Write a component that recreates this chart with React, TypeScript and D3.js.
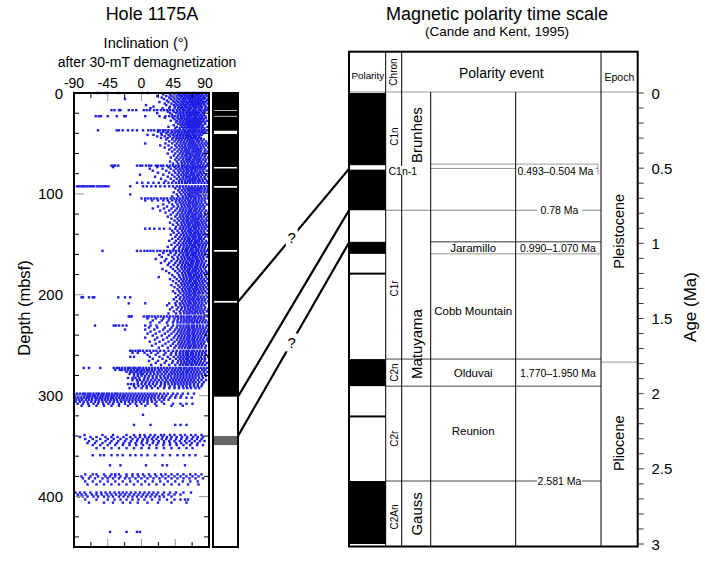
import React from "react";
import * as d3 from "d3";

// ---------- data ----------
const incTicks = [-90, -45, 0, 45, 90];
const depthTicks = [0, 100, 200, 300, 400];
const ageTicks = [0, 0.5, 1, 1.5, 2, 2.5, 3];

// hole 1175A polarity column (depth intervals, mbsf)
const holeNormal = [[0, 17], [17.7, 22.7], [23.4, 37.4], [40.6, 73.3], [74.8, 92.2], [93.9, 155.6], [157.3, 206.1], [207.8, 301]];
const holeUncertain = [[340, 349]];

// GPTS normal polarity intervals (Ma)
const gptsNormal = [[0, 0.48], [0.51, 0.78], [0.99, 1.07], [1.195, 1.208], [1.77, 1.95], [2.145, 2.158], [2.581, 3.0]];

const chronNames = ["C1n", "C1r", "C2n", "C2r", "C2An"];
const chronAges = [0.29, 1.3, 1.86, 2.3, 2.82];
const chronLines = [0.78, 1.77, 1.95, 2.581];

const epochNames = ["Brunhes", "Matuyama", "Gauss"];
const epochAges = [0.28, 1.67, 2.8];

const eventNames = ["Jaramillo", "Cobb Mountain", "Olduvai", "Reunion"];
const eventAges = [1.03, 1.45, 1.86, 2.25];
const rangeLabels = ["0.990\u20131.070 Ma", "1.770\u20131.950 Ma"];
const rangeAges = [1.03, 1.86];
const boundaryLabels = ["0.78 Ma", "2.581 Ma"];
const boundaryAges = [0.78, 2.581];

const seriesNames = ["Pleistocene", "Pliocene"];
const seriesAges = [0.92, 2.33];

const tieDepths = [207, 301, 340];
const tieAges = [0.505, 0.78, 0.995];
const tieQuery = [true, false, true];

// inclination after 30-mT demagnetization: "depth: inclinations"
const scatterRows = [
  "0:-59 -55 -48 -45 -31 1 8 36 41 47 50 53 57 60 62 66 69 71 75 78 80 84 88",
  "1.5:29 38 44 49 52 56 59 63 65 68 72 74 77 81 86",
  "3:21 33 40 46 51 54 58 61 64 67 70 73 76 79 83 88",
  "4.5:27 37 43 48 53 57 60 63 66 69 71 75 78 82 85",
  "6:-22 30 39 45 50 55 58 62 65 68 72 74 77 80 84 89",
  "7.5:34 42 47 52 56 59 64 67 70 73 76 79 81 87",
  "9:24 36 44 49 54 57 61 63 66 69 72 75 78 82 85",
  "10.5:31 40 46 51 55 59 62 66 68 71 74 77 80 83 88",
  "12:6 33 43 48 53 57 60 64 67 70 73 76 79 84",
  "13.5:16 38 45 50 54 58 61 65 69 72 74 78 81 86",
  "15:12 28 37 44 49 53 56 60 63 66 70 73 77 80 85 89",
  "17:-40 -36 -30 -28 -17 -12 -7 3 7 11 17 21 26 30 34 38 42 47 51 55 58 62 65 69 72 76 79 83 86 89",
  "18.5:35 43 48 52 56 60 63 67 70 73 76 80 84",
  "20:21 38 46 51 55 59 62 65 68 71 74 77 82",
  "21.5:41 49 53 57 61 64 67 70 72 75 79 83",
  "23:-61 -57 -54 -45 -33 -23 -21 5 24 32 37 41 45 49 53 56 60 63 66 70 73 77 81 85",
  "24.5:31 42 48 53 57 61 64 68 71 74 78 81 86",
  "26:44 50 54 58 61 64 67 70 73 76 79 83",
  "27.5:39 47 52 56 60 63 66 69 72 75 78 82 87",
  "29:46 51 55 59 62 65 68 71 74 77 80 84",
  "30.5:49 54 58 61 64 67 70 73 76 79 85",
  "32:43 52 56 60 63 66 69 72 75 78 82",
  "33.5:36 47 54 58 62 65 68 71 74 77 81 88",
  "35:45 51 56 60 64 67 70 73 76 80 84",
  "37:-58 -33 -30 -25 -18 -12 -6 2 9 13 17 22 25 29 32 36 40 44 48 51 55 58 62 65 68 71 74 77 80 83 87 90",
  "38.5:22 29 35 41 46 50 54 58 61 64 67 70 73 77 81 85",
  "40:26 33 39 44 49 53 57 60 63 67 70 74 78 82",
  "41.5:8 16 27 36 42 47 51 55 59 62 65 69 72 76 80",
  "43:21 31 38 44 48 52 56 60 63 66 70 73 77",
  "44.5:26 35 42 47 51 55 59 62 66 69 72 76 79",
  "46:33 41 46 50 54 58 62 65 68 72 75 79 83",
  "48:37 44 49 53 57 61 64 67 70 74 77 81 86",
  "50:5 32 41 47 52 56 59 63 66 69 72 76 80 84 88",
  "52:25 36 45 50 54 58 62 65 68 71 74 78 82 86",
  "54:31 40 47 52 56 59 63 66 69 72 75 79 83 89",
  "56:37 44 50 54 58 61 64 68 71 74 77 80 85",
  "58:41 48 53 57 60 63 67 70 73 76 79 84 88",
  "60:35 45 51 55 59 62 65 68 72 75 78 82 86",
  "62:43 49 54 58 61 65 68 71 74 77 81 85",
  "64:39 47 52 56 60 63 66 70 73 76 79 84 89",
  "66:45 50 55 59 62 65 69 72 75 78 82 86",
  "68:38 47 53 57 61 64 67 70 74 77 80 85",
  "70:42 49 54 58 62 66 69 72 75 79 83 88",
  "72:-40 -37 -35 -31 -6 -2 1 6 10 13 19 22 26 29 34 38 42 46 50 54 57 61 64 68 71 75 78 82 86 89",
  "73.5:-38 21 36 44 49 54 58 61 65 68 71 74 78 81 85",
  "75:11 28 39 46 51 55 59 62 66 69 72 76 80 84",
  "77:15 33 43 49 53 57 61 64 67 71 74 78 82 87",
  "79:22 37 45 50 55 59 62 66 69 72 76 79 83",
  "81:-2 29 41 48 53 57 60 64 67 70 74 77 81 86",
  "83:18 35 44 50 55 59 62 65 69 72 75 79 84 89",
  "85:26 39 47 52 56 60 64 67 70 73 77 81 85",
  "87:32 43 50 54 58 62 65 68 71 75 78 82 87",
  "89:-6 1 9 16 23 30 36 41 46 50 54 58 61 65 69 72 76 80 84 88",
  "92.5:-86 -83 -80 -78 -75 -72 -69 -66 -63 -59 -56 -53 -50 -47 -44 -15 2 7 13 19 25 31 37 42 47 51 55 59 63 67 71 75 79 83 87",
  "94.5:45 51 56 60 63 66 69 72 75 78 81 85 89",
  "96.5:49 54 58 62 65 68 71 74 77 80 84 88",
  "98.5:43 51 56 60 64 67 70 73 76 79 83 87",
  "100.5:-15 47 53 58 62 65 68 72 75 78 82 86",
  "102.5:41 49 55 59 63 66 69 72 76 79 84 89",
  "104.5:0 5 9 13 17 21 26 30 34 39 43 47 51 55 59 62 66 70 73 77 81 85 89",
  "106.5:5 14 22 29 35 41 46 50 54 58 62 65 69 72 76 80 84",
  "108.5:37 46 51 55 59 63 66 69 73 76 80 85",
  "110.5:29 41 48 53 57 61 64 68 71 74 78 82 87",
  "112.5:22 34 43 49 54 58 62 65 69 72 76 80 84",
  "114.5:15 30 40 47 52 56 60 64 67 71 74 78 83",
  "116.5:25 37 45 51 55 59 63 66 70 73 77 81 86",
  "118.5:32 42 49 54 58 62 65 68 72 75 79 84 89",
  "120.5:39 47 52 56 60 63 67 70 73 77 80 85",
  "122.5:35 45 51 55 59 62 66 69 72 76 79 83 88",
  "124.5:40 48 53 57 61 64 68 71 74 77 81 86",
  "126.5:44 50 55 59 62 66 69 72 75 79 83 87",
  "128.5:38 47 53 57 61 64 67 71 74 77 81 85",
  "130.5:42 49 54 58 62 65 69 72 75 78 82 86 90",
  "132.5:46 52 56 60 63 67 70 73 76 80 84 88",
  "134.5:5 11 17 24 30 38 45 51 55 59 63 66 70 73 77 81 85",
  "136.5:41 48 54 58 62 65 68 72 75 79 83 88",
  "138.5:43 50 55 59 63 66 70 73 76 80 84",
  "140.5:39 47 53 57 61 65 68 71 75 78 82 87",
  "142.5:45 51 56 60 63 67 70 73 77 80 85 89",
  "144.5:41 49 54 58 62 65 69 72 76 79 83",
  "146.5:37 46 52 57 61 64 67 71 74 77 81 86",
  "148.5:44 50 55 59 63 66 70 73 76 80 84 88",
  "150.5:40 48 53 57 61 65 68 71 75 78 82 86",
  "152.5:35 45 51 56 60 63 67 70 73 77 81 85",
  "154.5:43 50 55 59 62 66 69 73 76 80 84 89",
  "156.5:-52 -6 -1 4 8 12 16 21 25 30 34 38 42 46 50 54 58 61 65 68 72 75 79 83 87",
  "158.5:29 39 46 52 56 60 63 67 70 73 77 81 85",
  "160.5:24 36 44 50 55 59 62 66 69 72 76 80 84 89",
  "162.5:27 41 48 53 57 61 64 68 71 74 78 82 87",
  "164.5:19 33 43 49 54 58 62 65 68 72 75 79 83",
  "166.5:31 40 47 52 56 60 64 67 70 74 77 81 86",
  "168.5:26 37 45 51 55 59 62 66 69 73 76 80 84",
  "170.5:35 43 49 54 58 62 65 68 72 75 79 83 88",
  "172.5:39 47 53 57 60 64 67 71 74 78 82 86",
  "174.5:28 42 49 54 58 62 65 69 72 75 79 84",
  "176.5:33 45 51 56 60 63 67 70 73 77 81 86 90",
  "178.5:37 48 54 58 62 65 68 72 75 79 83 87",
  "180.5:41 50 55 59 63 66 70 73 77 80 85",
  "182.5:23 44 51 56 60 64 67 70 74 77 81 86",
  "184.5:38 47 53 57 61 65 68 72 75 79 83 88",
  "186.5:42 50 55 59 63 66 70 73 77 81 85",
  "188.5:46 53 57 61 64 68 71 74 78 82 87",
  "190.5:40 49 54 58 62 66 69 73 76 80 84 89",
  "192.5:44 51 56 60 64 67 71 74 78 82 86",
  "194.5:48 54 58 62 65 69 72 75 79 83 88",
  "196.5:42 50 55 59 63 66 70 73 77 81 85",
  "198.5:45 52 57 61 64 68 71 75 78 82 87",
  "200.5:49 55 59 63 66 70 73 77 81 86",
  "202.5:-80 -78 -70 -65 -63 -31 -22 -15 46 52 57 61 64 68 71 75 79 83 88",
  "204.5:43 51 56 60 64 67 70 74 77 81 85",
  "206.5:47 54 58 62 65 69 72 76 80 84 89",
  "208.5:-17 5 37 45 51 55 59 63 66 70 73 77 81 86",
  "210.5:34 46 52 57 61 64 68 71 75 79 83",
  "212.5:41 49 54 58 62 66 69 73 76 80 85",
  "214.5:38 47 53 58 62 65 69 72 76 80 84 89",
  "216.5:43 51 56 60 64 67 71 74 78 82 87",
  "218.5:36 46 52 57 61 64 68 71 75 79 83",
  "221.5:-17 -15 -13 3 7 10 14 18 22 26 30 34 38 42 46 49 53 56 60 63 66 70 73 77 80 84 88",
  "223.5:8 19 29 37 44 49 53 57 61 64 68 71 75 79 83",
  "225.5:15 27 36 43 48 53 57 60 64 67 71 74 78 82 86",
  "227.5:12 24 34 42 48 52 56 60 63 67 70 74 77 81 85 89",
  "230.5:-62 -37 -34 -30 -25 -20 5 12 20 35 42 48 52 56 60 63 67 70 74 78 82 87",
  "232.5:10 21 31 40 47 52 56 60 63 67 70 74 78 82 86",
  "234.5:-22 5 17 29 38 45 50 54 58 62 65 69 72 76 80 84 89",
  "236.5:12 24 35 43 49 53 57 61 64 68 71 75 79 83 87",
  "238.5:8 19 31 40 47 52 56 60 63 67 70 74 78 82 86",
  "240.5:15 27 37 45 50 54 58 62 65 69 72 76 80 85",
  "242.5:5 21 34 43 49 53 57 61 64 68 71 75 79 83 88",
  "244.5:18 29 40 47 52 56 60 63 67 70 74 78 82 87",
  "246.5:11 24 36 44 50 54 58 62 65 69 72 76 80 84 89",
  "248.5:19 32 42 49 53 57 61 64 68 71 75 79 83",
  "250.5:14 28 39 46 51 55 59 63 66 70 73 77 81 86",
  "252.5:23 35 44 50 54 58 62 65 69 72 76 80 85",
  "255.5:-15 -12 -8 -4 -2 2 7 11 16 20 25 30 36 42 47 52 56 60 63 67 70 74 78 82 86",
  "257.5:-12 -5 4 13 22 32 40 46 51 55 59 62 66 69 73 77 81 85",
  "259.5:8 19 30 39 46 51 55 59 62 66 69 73 77 81 86",
  "261.5:-15 -10 11 24 35 43 49 53 57 61 64 68 71 75 79 84 89",
  "263.5:15 28 38 46 51 55 59 62 66 69 73 77 81 85",
  "265.5:10 22 33 42 49 53 57 61 64 68 71 75 79 84",
  "267.5:19 31 41 48 53 57 60 64 67 71 74 78 82 87",
  "269.5:13 26 37 45 51 55 59 62 66 69 73 77 81 85",
  "272.5:-77 -70 -55 -37 -33 -30 -26 -22 -18 -15 -11 -8 -4 -2 2 6 10 14 18 22 26 30 34 38 42 46 50 53 57 60 64 67 71 75 79 83 87",
  "274.5:-35 -29 -26 -22 -18 -14 -10 -6 -4 0 3 7 10 14 18 23 27 32 36 41 45 49 53 57 61 64 68 72 76 81 85",
  "276.5:-20 -15 -12 -8 -6 -2 0 4 8 12 16 21 25 30 34 39 43 47 51 55 59 62 66 70 74 78 83 88",
  "278.5:-16 -10 -5 -1 2 7 12 17 22 27 32 37 41 45 49 53 56 60 64 68 72 76 80 85",
  "280.5:-10 -5 0 5 10 15 20 25 30 35 39 44 48 52 56 60 64 68 72 76 81 86",
  "282.5:-18 -12 -8 -3 4 9 15 20 26 31 35 40 44 48 52 56 60 64 68 72 77 82",
  "284.5:-12 -6 -2 3 8 13 18 23 28 33 38 42 46 50 54 58 62 66 70 75 80 86",
  "286.5:-5 1 6 11 16 21 26 31 35 40 44 48 52 56 60 64 68 72 77 83",
  "288.5:-18 -14 -10 -5 0 5 10 15 20 26 31 36 41 45 49 53 57 61 65 70 75 81",
  "290.5:-10 -4 2 7 12 18 25 31 38 44 50 55 60 65 70 75 80",
  "292.5:-16 -8 0 7 14 22 30 37 44 50 56 61 66 72 77",
  "298:-90 -86 -82 -78 -75 -71 -68 -64 -60 -57 -53 -50 -46 -43 -39 -35 -32 -28 -24 -20 -16 -12 -8 -4 0 4 8 12 16 20 25 30 35 42 48 55 62 70",
  "300:-88 -84 -79 -76 -72 -69 -65 -62 -58 -54 -51 -47 -44 -40 -37 -33 -29 -25 -22 -18 -14 -10 -6 -2 2 6 10 14 18 23 28 33 40 46 53",
  "302:-89 -85 -81 -77 -73 -70 -66 -62 -59 -55 -52 -48 -45 -41 -38 -34 -30 -26 -23 -19 -15 -11 -7 -3 1 5 9 13 17 22 27 31 38 45 52 60 67",
  "304:-87 -83 -79 -74 -70 -66 -61 -57 -53 -49 -45 -41 -37 -33 -28 -24 -20 -16 -12 -8 -4 0 4 8 13 18 24 30 36",
  "306:-88 -82 -77 -72 -67 -62 -57 -52 -47 -42 -37 -32 -27 -22 -17 -12 -7 -2 3 8 14 20 27",
  "308:-85 -78 -71 -64 -58 -51 -44 -38 -30 -22 -15 -8 0 8 18 30 42 52 60 68",
  "310:-80 -70 -60 -50 -40 -30 -18 -6 5 20 40 55",
  "319:2",
  "329:-10 12 45 52 60",
  "339:-90 -76 -52 -38 -20 -10 -2 4 12 18 26 30 38 44 52 58 66 72 80",
  "341:-82 -68 -60 -48 -40 -32 -24 -15 -8 -2 5 10 16 22 28 34 40 47 54 61 69 75 82",
  "343:-75 -65 -55 -45 -37 -28 -20 -12 -5 2 8 14 20 27 33 39 46 53 60 67 74 80",
  "345:-70 -60 -48 -40 -31 -22 -14 -6 1 8 16 23 30 37 44 51 58 64 71 78 84",
  "347:-72 -62 -52 -42 -33 -24 -16 -8 0 7 15 22 30 38 46 53 60 67 75",
  "349:-65 -55 -45 -35 -25 -16 -7 2 11 20 29 38 47 56 65 74 82",
  "352:-60 -50 -40 -30 -20 -10 0 10 20 30 40 50 60 68",
  "359:-65 -55 -50 -40 -32 -25 -15 -8 0 8 18 28 38 48 56 64 72",
  "369:-42 -28 6 28 34 58",
  "378:-75 -65 -60 -50 -40 -35 -30 -20 -12 -5 2 10 18 26 32 40 48 56 65 72 80",
  "380:-80 -68 -58 -48 -42 -35 -28 -20 -12 -4 4 12 20 28 36 44 52 60 68 76",
  "382:-78 -70 -62 -52 -45 -38 -30 -22 -16 -8 0 8 16 24 32 40 48 56 64 72 82",
  "385:-75 -65 -55 -45 -35 -25 -15 -5 5 15 25 35 45 55 65 75",
  "388:-72 -60 -50 -40 -30 -20 -10 0 10 20 30 40 50 62 76",
  "396:-88 -82 -76 -68 -60 -54 -48 -42 -36 -30 -25 -20 -14 -8 -2 4 10 16 22 30 38 46 56 66",
  "398:-85 -80 -74 -66 -60 -53 -46 -40 -34 -28 -22 -16 -10 -4 2 8 14 20 28 36 44 52",
  "400:-84 -78 -72 -64 -58 -50 -44 -38 -30 -24 -18 -12 -6 0 6 12 18 24 30 40",
  "403:-75 -60 -45 -36 -28 -20 -12 -4 4 14 24 34 44 52 58 62",
  "406:-70 -50 -38 -25 -15 -5 8 22 40 60",
  "435:-42 -20 -6 -2",
];

const scatterPoints: { d: number; inc: number }[] = [];
scatterRows.forEach((row) => {
  const [d, vals] = row.split(":");
  vals.trim().split(/\s+/).forEach((v) => scatterPoints.push({ d: +d, inc: +v }));
});

// ---------- layout ----------
const FONT = "Liberation Sans, Arial, Helvetica, sans-serif";
const W = 705, H = 566;
const plotL = 74, plotR = 209, plotT = 93, plotB = 547;
const holeL = 213, holeR = 238;
const tabL = 349, tabR = 637.7, tabT = 51.7, headB = 92;
const colPolR = 385.7, colChronR = 401.7, colEpochR = 430.7, colEventR = 515.7, colAgeR = 601;

const xInc = d3.scaleLinear().domain([-90, 90]).range([plotL, plotR]);
const yDepth = d3.scaleLinear().domain([0, 450]).range([plotT, plotB]);
const yAge = d3.scaleLinear().domain([0, 3]).range([93, 544]);
const tabB = yAge(3) + 2.5;

export default function App() {
  const incMinor = d3.range(-90, 90.1, 22.5);
  const depthMinor = d3.range(0, 441, 20);
  const ageMinor = d3.range(0, 3.001, 0.1);

  const ties = tieDepths.map((dp, i) => {
    const x1 = holeR, y1 = yDepth(dp), x2 = tabL, y2 = yAge(tieAges[i]);
    const qx = 291.7;
    const t = (qx - x1) / (x2 - x1);
    return { x1, y1, x2, y2, qx, qy: y1 + t * (y2 - y1), q: tieQuery[i] };
  });

  const c1n1Y = 170.5;

  return (
    <svg width={W} height={H} style={{ position: "absolute", left: 0, top: 0, background: "#fff" }} fontFamily={FONT}>
      <rect x={0} y={0} width={W} height={H} fill="#fff" />
      {/* titles */}
      <text x={152} y={19.5} fontSize={18} textAnchor="middle">Hole 1175A</text>
      <text x={146} y={48} fontSize={14.5} textAnchor="middle">Inclination (°)</text>
      <text x={147} y={67} fontSize={14} textAnchor="middle">after 30-mT demagnetization</text>
      <text x={497} y={19.5} fontSize={18} textAnchor="middle">Magnetic polarity time scale</text>
      <text x={497} y={36} fontSize={13.5} textAnchor="middle">(Cande and Kent, 1995)</text>

      {/* inclination axis labels */}
      {incTicks.map((t) => (
        <text key={t} x={xInc(t) - (t === 90 ? 4 : t === 45 ? 2 : 0)} y={87.5} fontSize={14} textAnchor="middle">{t}</text>
      ))}
      {depthTicks.map((t) => (
        <text key={t} x={63} y={yDepth(t)} fontSize={15} textAnchor="end" dominantBaseline="central">{t}</text>
      ))}
      <text transform={`translate(30,${308}) rotate(-90)`} fontSize={16.5} textAnchor="middle">Depth (mbsf)</text>

      {/* scatter */}
      <g fill="#1e1ee6">
        {scatterPoints.map((p, i) => (
          <rect key={i} x={xInc(p.inc) - 1.2} y={yDepth(p.d) - 1.2} width={2.4} height={2.4} />
        ))}
      </g>

      {/* plot ticks */}
      <g strokeWidth={1}>
        {incMinor.slice(1, -1).map((t) => {
          const major = t % 45 === 0;
          const len = major ? 8 : 5;
          const col = major ? "#999" : "#000";
          return (
            <g key={t}>
              <line x1={xInc(t)} x2={xInc(t)} y1={plotT} y2={plotT + len} stroke={col} />
              <line x1={xInc(t)} x2={xInc(t)} y1={plotB} y2={plotB - len} stroke={col} />
            </g>
          );
        })}
        {depthMinor.slice(1).map((t) => {
          const major = t % 100 === 0;
          const len = major ? 10 : 5;
          const col = major ? "#999" : "#000";
          return (
            <g key={t}>
              <line x1={plotL} x2={plotL + len} y1={yDepth(t)} y2={yDepth(t)} stroke={col} />
              <line x1={plotR} x2={plotR - len} y1={yDepth(t)} y2={yDepth(t)} stroke={col} />
            </g>
          );
        })}
      </g>
      <rect x={plotL} y={plotT} width={plotR - plotL} height={plotB - plotT} fill="none" stroke="#000" strokeWidth={2} />

      {/* hole polarity column */}
      <rect x={holeL} y={plotT} width={holeR - holeL} height={plotB - plotT} fill="#fff" />
      {holeNormal.map(([a, b], i) => (
        <rect key={i} x={holeL} y={yDepth(a)} width={holeR - holeL} height={yDepth(b) - yDepth(a)} fill="#000" />
      ))}
      {holeUncertain.map(([a, b], i) => (
        <rect key={i} x={holeL} y={yDepth(a)} width={holeR - holeL} height={yDepth(b) - yDepth(a)} fill="#666" />
      ))}
      <rect x={holeL} y={plotT} width={holeR - holeL} height={plotB - plotT} fill="none" stroke="#000" strokeWidth={2} />

      {/* tie lines */}
      {ties.map((t, i) => (
        <g key={i}>
          <line x1={t.x1} y1={t.y1} x2={t.x2} y2={t.y2} stroke="#000" strokeWidth={2.2} />
          {t.q && (
            <g>
              <rect x={t.qx - 6} y={t.qy - 9} width={12} height={18} fill="#fff" />
              <text x={t.qx} y={t.qy} fontSize={15} textAnchor="middle" dominantBaseline="central">?</text>
            </g>
          )}
        </g>
      ))}

      {/* GPTS table */}
      <rect x={tabL} y={tabT} width={tabR - tabL} height={tabB - tabT} fill="#fff" />
      {gptsNormal.map(([a, b], i) => (
        <rect key={i} x={tabL} y={yAge(a)} width={colPolR - tabL} height={yAge(b) - yAge(a)} fill="#000" />
      ))}
      {/* horizontal lines */}
      <line x1={tabL} x2={tabR} y1={headB} y2={headB} stroke="#999" />
      {chronLines.map((a) => (
        <line key={a} x1={colPolR} x2={colAgeR} y1={yAge(a)} y2={yAge(a)} stroke={a === 0.78 ? "#888" : "#444"} />
      ))}
      <line x1={colEpochR} x2={colAgeR} y1={yAge(0.99)} y2={yAge(0.99)} stroke="#333" />
      <line x1={colEpochR} x2={colAgeR} y1={yAge(1.07)} y2={yAge(1.07)} stroke="#999" />
      <line x1={colEpochR} x2={598} y1={yAge(0.473)} y2={yAge(0.473)} stroke="#999" />
      <line x1={colEpochR} x2={598} y1={yAge(0.502)} y2={yAge(0.502)} stroke="#999" />
      <line x1={598} x2={598} y1={yAge(0.473)} y2={c1n1Y + 4} stroke="#999" />
      <line x1={colAgeR} x2={tabR} y1={yAge(1.79)} y2={yAge(1.79)} stroke="#999" />

      {/* vertical lines */}
      <line x1={colPolR} x2={colPolR} y1={tabT} y2={tabB} stroke="#000" />
      <line x1={colChronR} x2={colChronR} y1={tabT} y2={tabB} stroke="#000" />
      <line x1={colEpochR} x2={colEpochR} y1={headB} y2={tabB} stroke="#000" />
      <line x1={colEventR} x2={colEventR} y1={headB} y2={tabB} stroke="#000" />
      <line x1={colAgeR} x2={colAgeR} y1={tabT} y2={tabB} stroke="#000" />
      <rect x={tabL} y={tabT} width={tabR - tabL} height={tabB - tabT} fill="none" stroke="#000" strokeWidth={2} />

      {/* header */}
      <text x={(tabL + colPolR) / 2 + 0.5} y={75} fontSize={9.8} textAnchor="middle" dominantBaseline="central">Polarity</text>
      <text transform={`translate(${(colPolR + colChronR) / 2},72) rotate(-90)`} fontSize={10} textAnchor="middle" dominantBaseline="central">Chron</text>
      <text x={(colChronR + colAgeR) / 2} y={72.5} fontSize={14} textAnchor="middle" dominantBaseline="central">Polarity event</text>
      <text x={(colAgeR + tabR) / 2} y={77} fontSize={10.5} textAnchor="middle" dominantBaseline="central">Epoch</text>

      {/* chron labels */}
      {chronNames.map((n, i) => (
        <text key={n} transform={`translate(${(colPolR + colChronR) / 2 + 0.5},${yAge(chronAges[i])}) rotate(-90)`} fontSize={10} textAnchor="middle" dominantBaseline="central">{n}</text>
      ))}
      <rect x={388} y={c1n1Y - 4.5} width={27} height={9} fill="#fff" />
      <text x={388.5} y={c1n1Y} fontSize={10.5} dominantBaseline="central">C1n-1</text>

      {/* epoch (chron name) labels */}
      {epochNames.map((n, i) => (
        <text key={n} transform={`translate(${(colChronR + colEpochR) / 2},${yAge(epochAges[i])}) rotate(-90)`} fontSize={15} textAnchor="middle" dominantBaseline="central">{n}</text>
      ))}

      {/* event labels */}
      {eventNames.map((n, i) => (
        <text key={n} x={(colEpochR + colEventR) / 2} y={yAge(eventAges[i])} fontSize={11.5} textAnchor="middle" dominantBaseline="central">{n}</text>
      ))}
      {rangeLabels.map((n, i) => (
        <text key={n} x={558} y={yAge(rangeAges[i])} fontSize={10.5} textAnchor="middle" dominantBaseline="central">{n}</text>
      ))}
      {boundaryLabels.map((n, i) => (
        <g key={n}>
          <rect x={537} y={yAge(boundaryAges[i]) - 4} width={45} height={8} fill="#fff" />
          <text x={559.5} y={yAge(boundaryAges[i])} fontSize={10.5} textAnchor="middle" dominantBaseline="central">{n}</text>
        </g>
      ))}
      <rect x={516.5} y={c1n1Y - 4} width={79} height={8.5} fill="#fff" />
      <text x={517.5} y={c1n1Y} fontSize={10.5} dominantBaseline="central">0.493–0.504 Ma</text>

      {/* series labels */}
      {seriesNames.map((n, i) => (
        <text key={n} transform={`translate(${(colAgeR + tabR) / 2},${yAge(seriesAges[i])}) rotate(-90)`} fontSize={14.5} textAnchor="middle" dominantBaseline="central">{n}</text>
      ))}

      {/* age axis */}
      {ageMinor.map((t, i) => (
        <line key={i} x1={tabR} x2={tabR + 6} y1={yAge(t)} y2={yAge(t)} stroke="#333" />
      ))}
      {ageTicks.map((t) => (
        <text key={t} x={651.5} y={yAge(t)} fontSize={15} dominantBaseline="central">{t}</text>
      ))}
      <text transform={`translate(690,307) rotate(-90)`} fontSize={17} textAnchor="middle" dominantBaseline="central">Age (Ma)</text>
    </svg>
  );
}
